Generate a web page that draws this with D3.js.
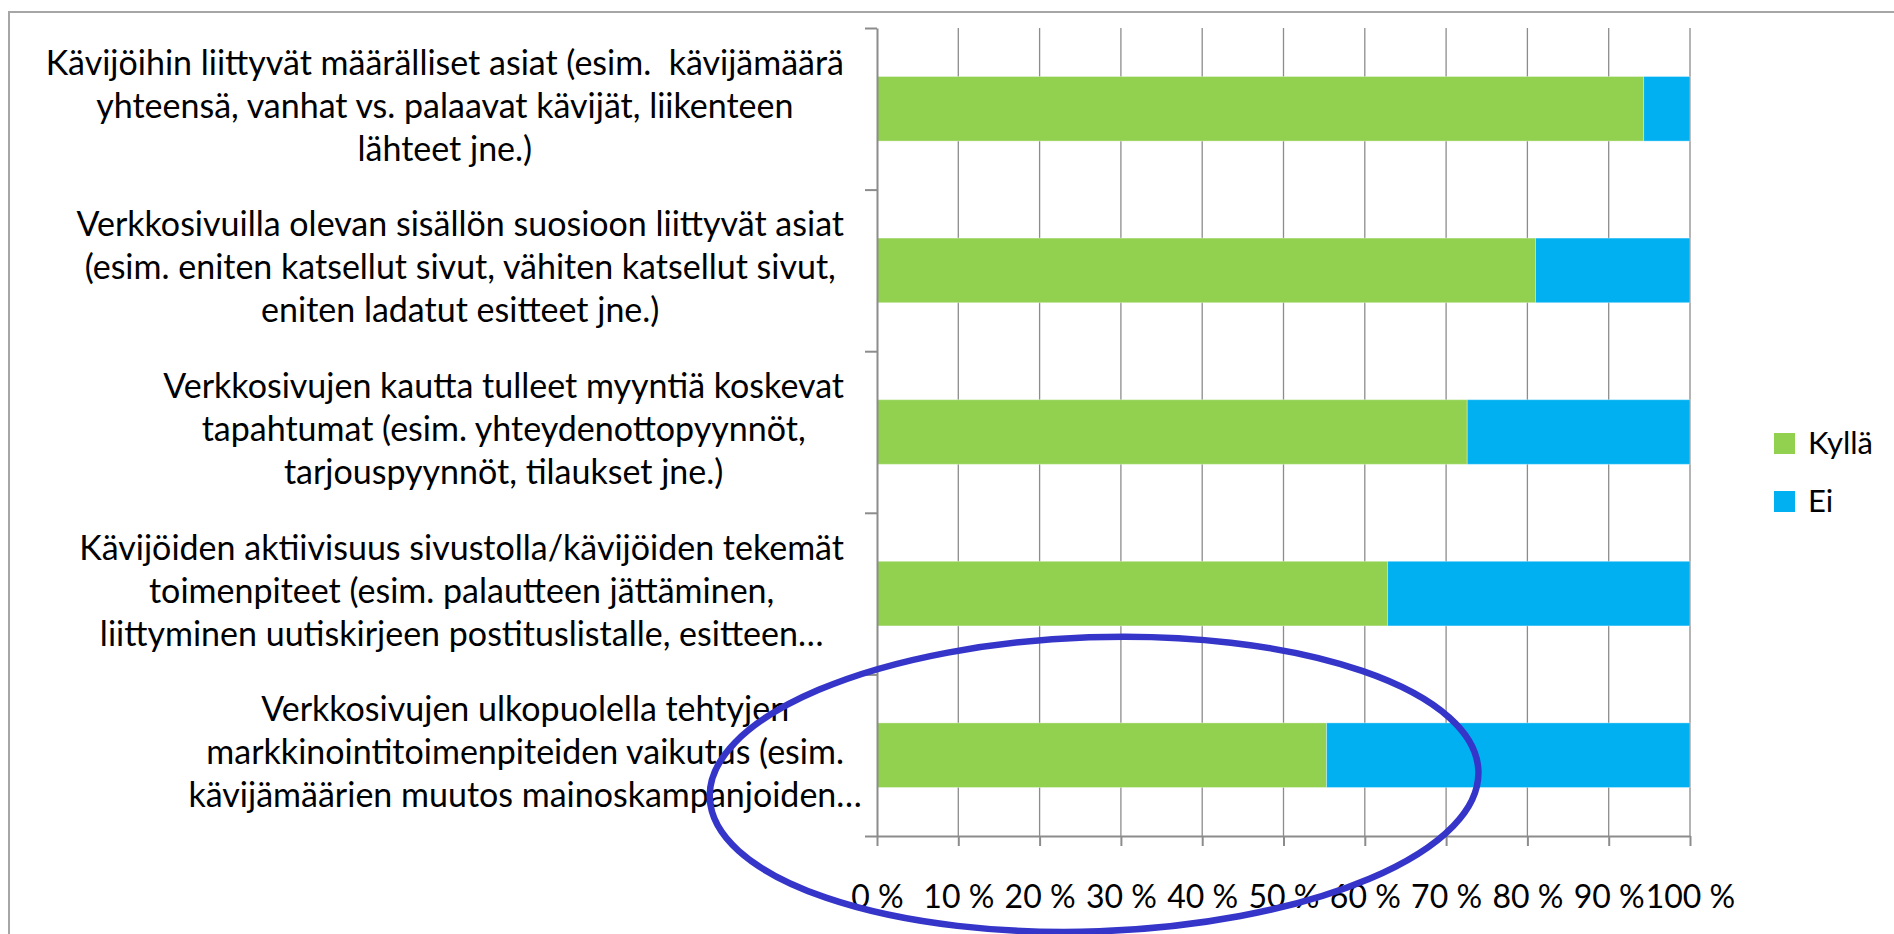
<!DOCTYPE html>
<html>
<head>
<meta charset="utf-8">
<script src="https://cdnjs.cloudflare.com/ajax/libs/d3/7.8.5/d3.min.js"></script>
<style>
  body { margin: 0; background: #fff; }
  svg text { font-family: Lato, "Open Sans", sans-serif; fill: #000; white-space: pre; }
</style>
</head>
<body>
<div id="chart"></div>
<script>

// Category labels, one array of wrapped lines per bar (top to bottom)
var categories = [
  ['Kävijöihin liittyvät määrälliset asiat (esim.  kävijämäärä', 'yhteensä, vanhat vs. palaavat kävijät, liikenteen', 'lähteet jne.)'],
  ['Verkkosivuilla olevan sisällön suosioon liittyvät asiat', '(esim. eniten katsellut sivut, vähiten katsellut sivut,', 'eniten ladatut esitteet jne.)'],
  ['Verkkosivujen kautta tulleet myyntiä koskevat', 'tapahtumat (esim. yhteydenottopyynnöt,', 'tarjouspyynnöt, tilaukset jne.)'],
  ['Kävijöiden aktiivisuus sivustolla/kävijöiden tekemät', 'toimenpiteet (esim. palautteen jättäminen,', 'liittyminen uutiskirjeen postituslistalle, esitteen…'],
  ['Verkkosivujen ulkopuolella tehtyjen', 'markkinointitoimenpiteiden vaikutus (esim.', 'kävijämäärien muutos mainoskampanjoiden…']
];

var seriesNames = ['Kyllä', 'Ei'];
var kylla = [94.3, 81.0, 72.6, 62.8, 55.3];
var ei = [5.7, 19.0, 27.4, 37.2, 44.7];
var xTicks = [0, 10, 20, 30, 40, 50, 60, 70, 80, 90, 100];

// Hand-drawn highlight round the last bar (in % and band units)
var highlight = { category: 4, centerPct: 26.7, radiusPct: 47.3, offset: 0.18, radiusBands: 0.91, angle: -2 };

var width = 1894,
    height = 934,
    plotLeft = 877,
    plotRight = 1690,
    plotTop = 28,
    plotBottom = 836,
    labelRight = 844,
    lineHeight = 43;

var colors = d3.scaleOrdinal().domain(seriesNames).range(['#92D050', '#00B0F0']);

var rows = categories.map(function(c, i){
  return { index: i, 'Kyllä': kylla[i], 'Ei': ei[i] };
});

var svg = d3.select('#chart')
  .append('svg')
    .attr('width', width)
    .attr('height', height);

// Chart frame
svg.append('rect')
  .attr('x', 9)
  .attr('y', 12)
  .attr('width', width + 50)
  .attr('height', height + 50)
  .attr('fill', 'none')
  .attr('stroke', '#A6A6A6')
  .attr('stroke-width', 2);

var x = d3.scaleLinear().domain([0, 100]).range([plotLeft, plotRight]);
var y = d3.scaleBand()
  .domain(d3.range(categories.length))
  .range([plotTop, plotBottom])
  .paddingInner(0.6)
  .paddingOuter(0.3);
var yEdge = d3.scaleLinear().domain([0, categories.length]).range([plotTop, plotBottom]);

// Gridlines
svg.append('g')
  .selectAll('line')
  .data(xTicks.slice(1))
  .enter()
    .append('line')
      .attr('x1', function(d){ return x(d); })
      .attr('x2', function(d){ return x(d); })
      .attr('y1', plotTop)
      .attr('y2', plotBottom)
      .attr('stroke', '#8C8C8C')
      .attr('stroke-width', 1.3);

// Stacked bars
var stacked = d3.stack().keys(seriesNames)(rows);
svg.append('g')
  .selectAll('g')
  .data(stacked)
  .enter()
    .append('g')
      .attr('fill', function(d){ return colors(d.key); })
    .selectAll('rect')
    .data(function(d){ return d; })
    .enter()
      .append('rect')
        .attr('x', function(d){ return x(d[0]); })
        .attr('y', function(d){ return y(d.data.index); })
        .attr('width', function(d){ return x(d[1]) - x(d[0]); })
        .attr('height', y.bandwidth())
        .attr('stroke', 'rgba(255,255,255,0.35)')
        .attr('stroke-width', 1);

// X axis
var xAxis = svg.append('g')
  .attr('transform', 'translate(0,' + plotBottom + ')')
  .call(d3.axisBottom(x)
    .tickValues(xTicks)
    .tickSizeInner(10)
    .tickSizeOuter(0)
    .tickPadding(39)
    .tickFormat(function(d){ return d + ' %'; }));

xAxis.selectAll('text')
  .style('font-size', '32px');

// Y axis, ticks between the categories
var yAxis = svg.append('g')
  .attr('transform', 'translate(' + plotLeft + ',0)')
  .call(d3.axisLeft(yEdge)
    .ticks(categories.length)
    .tickSizeInner(12)
    .tickSizeOuter(0)
    .tickFormat(''));

svg.selectAll('.domain, .tick line')
  .attr('stroke', '#8C8C8C')
  .attr('stroke-width', 2);

// Category labels, centred lines in a block right-aligned to the axis
var labels = svg.append('g')
  .selectAll('g')
  .data(categories)
  .enter()
    .append('g');

labels.each(function(lines, i){
  var g = d3.select(this);
  var cy = y(i) + y.bandwidth() / 2;
  var texts = g.selectAll('text')
    .data(lines)
    .enter()
      .append('text')
        .attr('text-anchor', 'middle')
        .attr('y', function(d, j){ return cy + (j - (lines.length - 1) / 2) * lineHeight + 9; })
        .style('font-size', '34px')
        .text(function(d){ return d; });

  // Block width ignores truncated lines ending with an ellipsis
  var blockWidth = 0;
  texts.each(function(d){
    if (d.slice(-1) !== '…') blockWidth = Math.max(blockWidth, this.getComputedTextLength());
  });
  texts.attr('x', labelRight - blockWidth / 2);
});

// Legend
var legend = svg.append('g')
  .selectAll('g')
  .data(seriesNames)
  .enter()
    .append('g')
      .attr('transform', function(d, i){ return 'translate(1774,' + (433 + i * 58) + ')'; });

legend.append('rect')
  .attr('width', 21)
  .attr('height', 21)
  .attr('fill', function(d){ return colors(d); });

legend.append('text')
  .attr('x', 34)
  .attr('y', 21)
  .style('font-size', '31px')
  .text(function(d){ return d; });

// Highlight ellipse
var hx = x(highlight.centerPct),
    hy = y(highlight.category) + y.bandwidth() / 2 + highlight.offset * y.step();
svg.append('ellipse')
  .attr('cx', hx)
  .attr('cy', hy)
  .attr('rx', x(highlight.radiusPct) - x(0))
  .attr('ry', highlight.radiusBands * y.step())
  .attr('transform', 'rotate(' + highlight.angle + ',' + hx + ',' + hy + ')')
  .attr('fill', 'none')
  .attr('stroke', '#3535C9')
  .attr('stroke-width', 6.5);

</script>
</body>
</html>
